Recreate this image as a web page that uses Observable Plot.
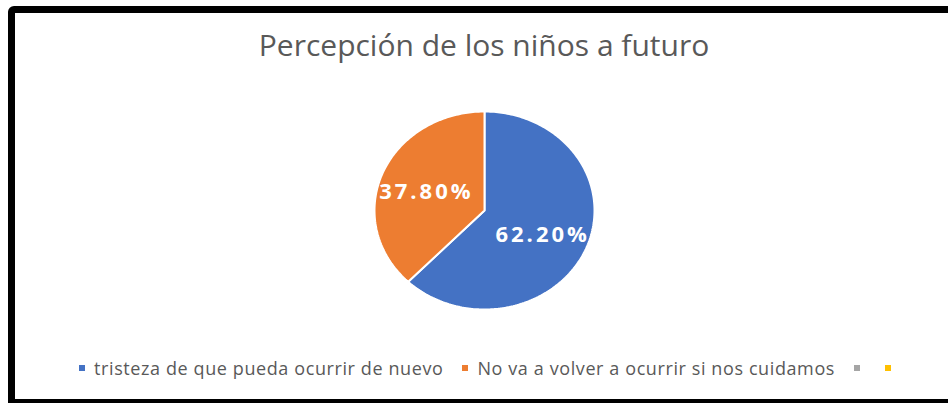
<!DOCTYPE html>
<html>
<head>
<meta charset="utf-8">
<script src="https://cdn.jsdelivr.net/npm/d3@7"></script>
<script src="https://cdn.jsdelivr.net/npm/@observablehq/plot@0.6"></script>
<style>
  html, body { margin: 0; padding: 0; background: #fff; overflow: hidden; }
  #wrap { position: relative; width: 948px; height: 403px; overflow: hidden; font-family: "Open Sans", sans-serif; }
  #frame { position: absolute; left: 8px; top: 6px; width: 960px; height: 386px; border: 7px solid #000; border-top-left-radius: 6px; }
  #chart { position: absolute; left: 0; top: 0; }
  #chart svg text { letter-spacing: 3px; }
  #title { position: absolute; left: 0; width: 968px; top: 30px; text-align: center; font-size: 30px; line-height: 30px; color: #595959; white-space: nowrap; }
  #legend { position: absolute; left: 0; width: 970px; top: 359px; display: flex; justify-content: center; font-size: 18px; line-height: 18px; letter-spacing: 0.6px; color: #595959; white-space: nowrap; }
  .item { display: flex; align-items: center; margin-right: 19px; }
  .item.empty { margin-right: 25px; }
  .item:last-child { margin-right: 0; }
  .sw { width: 6px; height: 6px; }
  .item span { margin-left: 9px; }
</style>
</head>
<body>
<div id="wrap">
  <div id="frame"></div>
  <div id="chart"></div>
  <div id="title"></div>
  <div id="legend"></div>
</div>
<script>
const titleText = "Percepción de los niños a futuro";
const categories = ["tristeza de que pueda ocurrir de nuevo", "No va a volver a ocurrir si nos cuidamos", "", ""];
const values = [0.622, 0.378, 0, 0];
const colors = ["#4472C4", "#ED7D31", "#A5A5A5", "#FFC000"];

const rows = categories.map((c, i) => ({key: i, category: c, value: values[i]}));
const arcs = d3.pie().sort(null).value(d => d.value)(rows);

// slice outlines from pie angles (data-space unit circle)
const points = [];
for (const a of arcs) {
  if (a.data.value <= 0) continue;
  const k = a.data.key;
  points.push({key: k, x: 0, y: 0});
  const n = Math.max(2, Math.ceil((a.endAngle - a.startAngle) / (Math.PI / 180)));
  for (let j = 0; j <= n; j++) {
    const t = a.startAngle + (a.endAngle - a.startAngle) * j / n;
    points.push({key: k, x: Math.sin(t), y: Math.cos(t)});
  }
  points.push({key: k, x: 0, y: 0});
}

const fmt = d3.format(".2%");
const labels = arcs.filter(a => a.data.value > 0).map(a => {
  const m = (a.startAngle + a.endAngle) / 2;
  return {x: 0.57 * Math.sin(m), y: 0.57 * Math.cos(m) - 0.03, text: fmt(a.data.value)};
});

const chart = Plot.plot({
  width: 948,
  height: 403,
  margin: 0,
  x: {domain: [-1, 1], range: [374, 594], axis: null},
  y: {domain: [-1, 1], range: [309, 111], axis: null},
  color: {domain: d3.range(categories.length), range: colors},
  style: {background: "transparent", overflow: "visible"},
  marks: [
    Plot.line(points, {x: "x", y: "y", z: "key", fill: "key", stroke: "white", strokeWidth: 2, strokeLinejoin: "miter"}),
    Plot.text(labels, {x: "x", y: "y", text: "text", fill: "white", fontSize: 22, fontWeight: "bold", fontFamily: "Open Sans"})
  ]
});
document.getElementById("chart").appendChild(chart);

document.getElementById("title").textContent = titleText;
const legend = d3.select("#legend");
categories.forEach((c, i) => {
  const it = legend.append("div").attr("class", c ? "item" : "item empty");
  it.append("div").attr("class", "sw").style("background", colors[i]);
  if (c) it.append("span").text(c);
});
</script>
</body>
</html>
